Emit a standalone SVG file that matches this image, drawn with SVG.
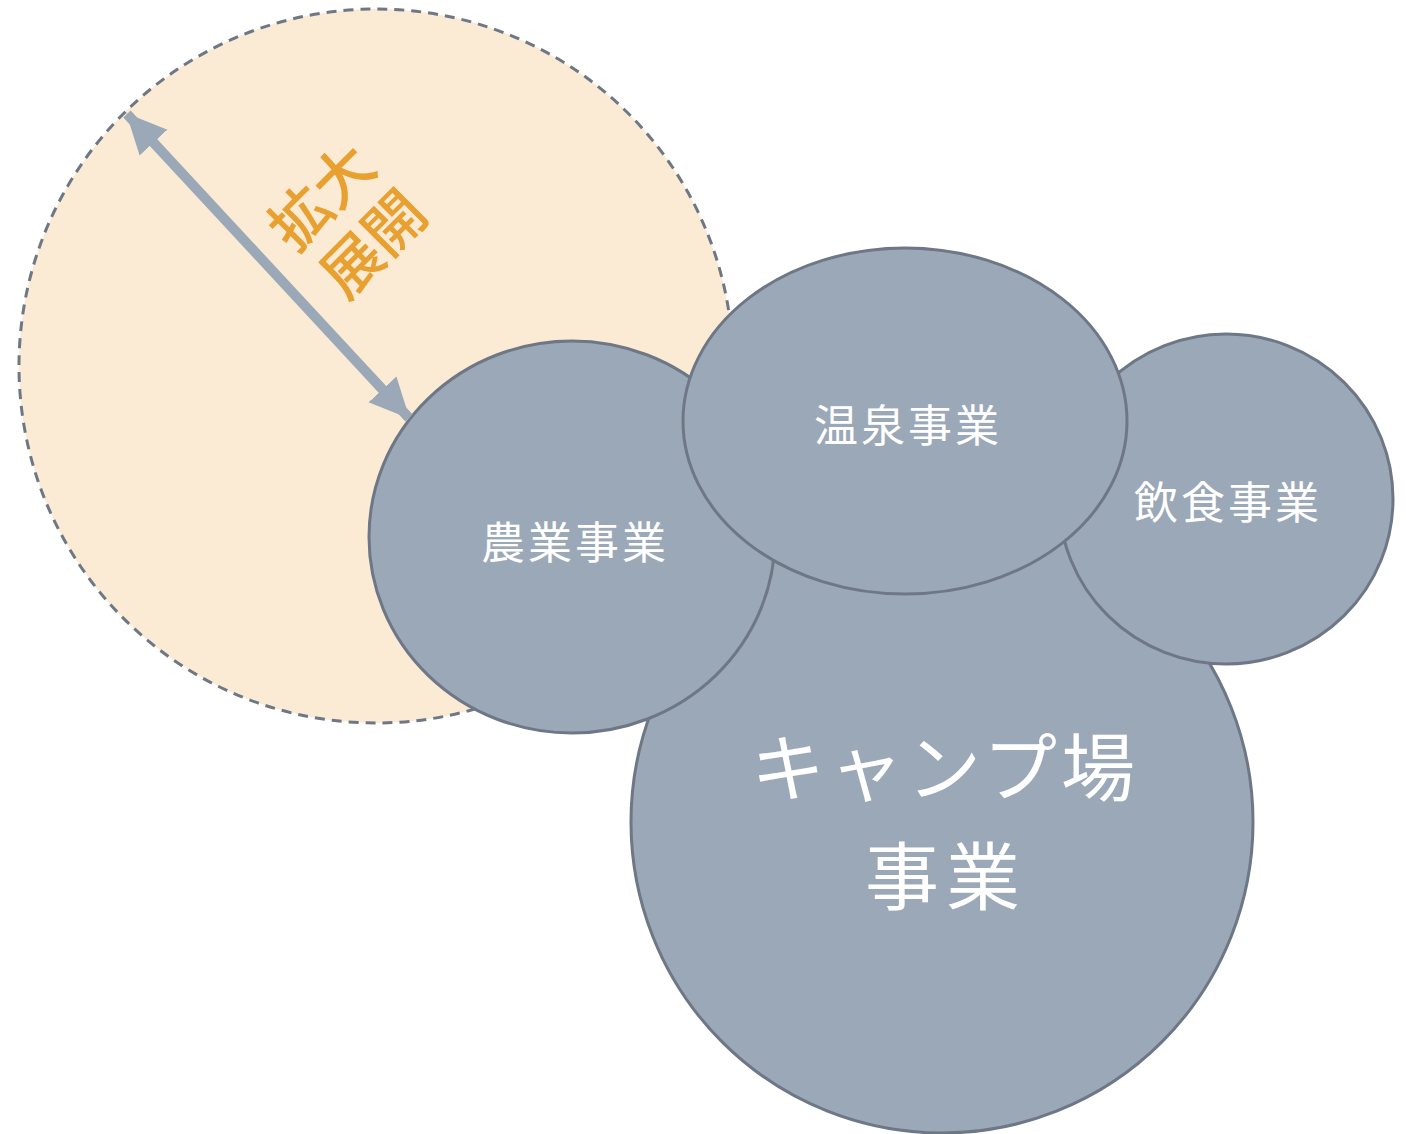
<svg xmlns="http://www.w3.org/2000/svg" width="1406" height="1134" viewBox="0 0 1406 1134">
<style>
.bub{fill:#9ba8b7;stroke:#6e7785;stroke-width:3}
.lbl{fill:#ffffff;font-family:"Noto Sans CJK JP","Noto Sans",sans-serif;text-anchor:middle;dominant-baseline:central}
.exp{fill:#e8a030;font-family:"Noto Sans CJK JP","Noto Sans",sans-serif;text-anchor:middle;dominant-baseline:central;font-size:60px;font-weight:500}
</style>
<defs>
<marker id="ah" markerUnits="userSpaceOnUse" markerWidth="40" markerHeight="40" viewBox="0 0 40 40" refX="39" refY="20" orient="auto-start-reverse">
<path d="M0,1 L40,20 L0,39 Z" fill="#9ba8b7"/>
</marker>
</defs>
<rect width="1406" height="1134" fill="#ffffff"/>
<g id="expansion-zone">
<circle cx="376" cy="366" r="357" fill="#fbebd5" stroke="#6e7785" stroke-width="3" stroke-dasharray="10 7"/>
</g>
<g id="camp">
<ellipse class="bub" cx="942" cy="822" rx="311" ry="311"/>
<text class="lbl" font-size="74" letter-spacing="4" x="945" y="762">キャンプ場</text>
<text class="lbl" font-size="74" letter-spacing="7" x="946" y="871">事業</text>
</g>
<g id="agri">
<ellipse class="bub" cx="572" cy="537" rx="203" ry="196"/>
<text class="lbl" font-size="44" letter-spacing="3" x="575" y="540">農業事業</text>
</g>
<g id="food">
<ellipse class="bub" cx="1226" cy="499" rx="167" ry="165"/>
<text class="lbl" font-size="44" letter-spacing="3" x="1228" y="500">飲食事業</text>
</g>
<g id="onsen">
<ellipse class="bub" cx="905" cy="421" rx="222" ry="173"/>
<text class="lbl" font-size="44" letter-spacing="3" x="908" y="423">温泉事業</text>
</g>
<g id="connectors">
<line x1="127" y1="114" x2="409" y2="418" stroke="#9ba8b7" stroke-width="10" marker-start="url(#ah)" marker-end="url(#ah)"/>
</g>
<g id="expand-label" transform="translate(343,218) rotate(-45)">
<text class="exp" x="0" y="-35">拡大</text>
<text class="exp" x="3" y="35">展開</text>
</g>
</svg>
